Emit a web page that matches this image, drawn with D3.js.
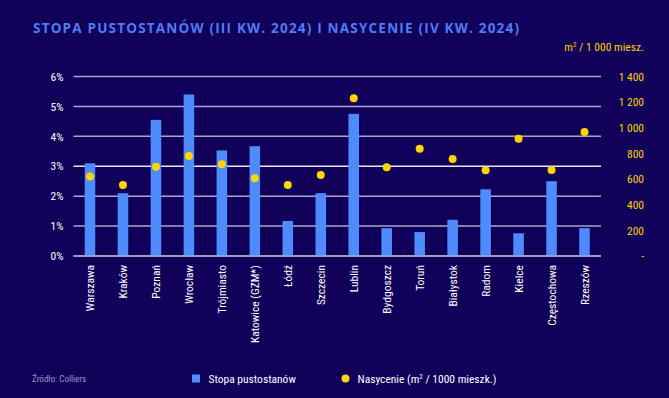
<!DOCTYPE html>
<html>
<head>
<meta charset="utf-8">
<script src="https://cdn.jsdelivr.net/npm/d3@7"></script>
<style>
  html, body { margin: 0; padding: 0; background: #10005a; }
  svg { display: block; }
</style>
</head>
<body>
<svg id="chart" width="669" height="398"></svg>
<script>
const cities = ["Warszawa", "Kraków", "Poznań", "Wrocław", "Trójmiasto", "Katowice (GZM*)", "Łódź", "Szczecin",
  "Lublin", "Bydgoszcz", "Toruń", "Białystok", "Radom", "Kielce", "Częstochowa", "Rzeszów"];
const vacancy = [3.1, 2.1, 4.55, 5.4, 3.53, 3.67, 1.17, 2.1, 4.75, 0.93, 0.8, 1.21, 2.23, 0.76, 2.5, 0.93];
const saturation = [621, 554, 697, 780, 715, 606, 554, 632, 1230, 692, 837, 757, 668, 915, 671, 967];
const leftTicks = [0, 1, 2, 3, 4, 5, 6];
const rightTicks = [0, 200, 400, 600, 800, 1000, 1200, 1400];

const svg = d3.select("#chart");
const width = 669, height = 398;
const margin = { top: 76.5, right: 68, bottom: 142, left: 73.5 };
const plotBottom = height - margin.bottom;

svg.append("rect").attr("width", width).attr("height", height).attr("fill", "#10005a");

const x = d3.scaleBand()
  .domain(cities)
  .range([margin.left, width - margin.right])
  .paddingInner(0.68)
  .paddingOuter(0.34);

const y = d3.scaleLinear().domain([0, 6]).range([plotBottom, margin.top]);
const y2 = d3.scaleLinear().domain([0, 1400]).range([plotBottom, margin.top]);

// title
svg.append("text")
  .attr("x", 33).attr("y", 33)
  .attr("font-family", "'Open Sans', sans-serif")
  .attr("font-weight", 700)
  .attr("font-size", 13.5)
  .attr("letter-spacing", 1.2)
  .attr("fill", "#4f7cf5")
  .text("STOPA PUSTOSTANÓW (III KW. 2024) I NASYCENIE (IV KW. 2024)");

svg.append("text")
  .attr("x", 644).attr("y", 51)
  .attr("text-anchor", "end")
  .attr("font-family", "'Liberation Sans Narrow', 'Roboto Condensed', Roboto, sans-serif")
  .attr("font-size", 11.5)
  .attr("fill", "#ffd200")
  .html("m<tspan font-size='7' dy='-4'>2</tspan><tspan dy='4'> / 1 000 miesz.</tspan>");

// gridlines
svg.append("g")
  .selectAll("line")
  .data(leftTicks)
  .enter()
  .append("line")
  .attr("x1", margin.left).attr("x2", width - margin.right)
  .attr("y1", d => y(d)).attr("y2", d => y(d))
  .attr("stroke", d => d === 3 ? "#e8e8f4" : "#a9a7c9")
  .attr("stroke-width", 1.5);

// bars
svg.append("g")
  .selectAll("rect")
  .data(cities)
  .enter()
  .append("rect")
  .attr("x", d => x(d))
  .attr("width", x.bandwidth())
  .attr("y", (d, i) => y(vacancy[i]))
  .attr("height", (d, i) => plotBottom - y(vacancy[i]))
  .attr("fill", "#4d8bff");

// baseline on top of bars
svg.append("line")
  .attr("x1", margin.left).attr("x2", width - margin.right)
  .attr("y1", plotBottom).attr("y2", plotBottom)
  .attr("stroke", "#a9a7c9").attr("stroke-width", 1.5);

// dots
svg.append("g")
  .selectAll("circle")
  .data(cities)
  .enter()
  .append("circle")
  .attr("cx", d => x(d) + x.bandwidth() / 2)
  .attr("cy", (d, i) => y2(saturation[i]))
  .attr("r", 4)
  .attr("fill", "#ffd600");

const tickFont = "'Liberation Sans Narrow', 'Roboto Condensed', Roboto, sans-serif";

// left axis
const leftAxis = svg.append("g")
  .attr("transform", `translate(${margin.left - 10},0)`)
  .call(d3.axisLeft(y).tickValues(leftTicks).tickSize(0).tickFormat(d => d + "%"));
leftAxis.select(".domain").remove();
leftAxis.selectAll("text")
  .attr("font-family", tickFont).attr("font-size", 11.5).attr("fill", "#ffffff").attr("x", 0);

// right axis
const rightAxis = svg.append("g")
  .attr("transform", `translate(644,0)`)
  .call(d3.axisRight(y2).tickValues(rightTicks).tickSize(0)
    .tickFormat(d => d === 0 ? "-" : d3.format(",")(d).replace(",", " ")));
rightAxis.select(".domain").remove();
rightAxis.selectAll("text")
  .attr("font-family", tickFont).attr("font-size", 11.5).attr("fill", "#ffd200")
  .attr("text-anchor", "end").attr("x", 0);

// category labels
const xAxis = svg.append("g")
  .attr("transform", `translate(0,${plotBottom})`)
  .call(d3.axisBottom(x).tickSize(0));
xAxis.select(".domain").remove();
xAxis.selectAll("text")
  .attr("font-family", tickFont).attr("font-size", 11.5).attr("fill", "#ffffff")
  .attr("text-anchor", "end")
  .attr("transform", "rotate(-90)")
  .attr("x", -9).attr("y", 0).attr("dy", "0.35em");

// footer
svg.append("text")
  .attr("x", 32).attr("y", 382)
  .attr("font-family", tickFont).attr("font-size", 9)
  .attr("fill", "#9a98c8")
  .text("Źródło: Colliers");

svg.append("rect")
  .attr("x", 192).attr("y", 374.5).attr("width", 8).attr("height", 8)
  .attr("fill", "#4d8bff");
svg.append("text")
  .attr("x", 208.5).attr("y", 382.5)
  .attr("font-family", tickFont).attr("font-size", 11.5).attr("fill", "#ffffff")
  .text("Stopa pustostanów");

svg.append("circle")
  .attr("cx", 345.5).attr("cy", 378.5).attr("r", 4).attr("fill", "#ffd600");
svg.append("text")
  .attr("x", 357.5).attr("y", 382.5)
  .attr("font-family", tickFont).attr("font-size", 11.5).attr("fill", "#ffffff")
  .html("Nasycenie (m<tspan font-size='7' dy='-4'>2</tspan><tspan dy='4'> / 1000 mieszk.)</tspan>");
</script>
</body>
</html>
